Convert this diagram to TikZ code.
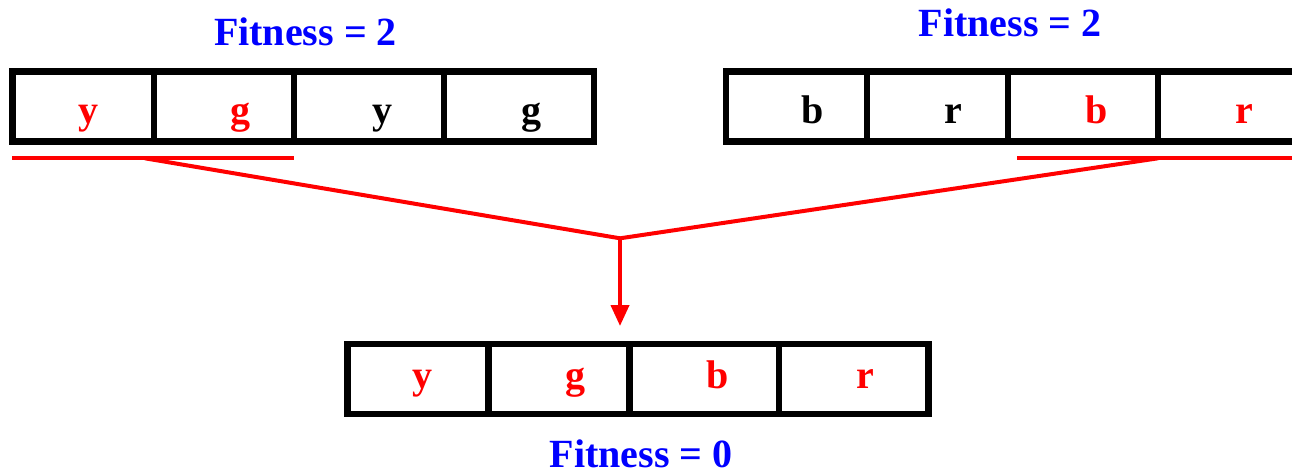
\documentclass[tikz,border=0pt]{standalone}
\usepackage{fontspec}
\setmainfont{Liberation Serif}
\usetikzlibrary{arrows.meta}
\definecolor{genered}{RGB}{255,0,0}
\definecolor{fitblue}{RGB}{0,0,255}
\begin{document}
\begin{tikzpicture}[x=1pt,y=-1pt,
  cell/.style={draw=black, line width=6.5pt, inner sep=0pt, outer sep=0pt,
               minimum height=70pt, anchor=north west},
  gene/.style={font=\bfseries\fontsize{40}{48}\selectfont, inner sep=0pt, anchor=base},
  hot/.style={gene, text=genered},
  fitlabel/.style={gene, text=fitblue},
  link/.style={draw=genered, line width=4pt}
]
\useasboundingbox (0,0) rectangle (1292,475);
\fill[white] (0,0) rectangle (1292,475);
\clip (0,0) rectangle (1292,475);

% parent 1
\node[cell, minimum width=141.3pt] (tl1) at (12.7,71.3) {};
\node[cell, minimum width=140pt]   (tl2) at (154,71.3) {};
\node[cell, minimum width=150pt]   (tl3) at (294,71.3) {};
\node[cell, minimum width=150pt]   (tl4) at (444,71.3) {};
\node[hot]  (gtl1) at (88,123.5)  {y};
\node[hot]  (gtl2) at (240.5,123.5) {g};
\node[gene] (gtl3) at (382.5,123.5) {y};
\node[gene] (gtl4) at (531.5,123.5) {g};
\node[fitlabel] (fit1) at (305.5,45) {Fitness = 2};

% parent 2
\node[cell, minimum width=141pt] (tr1) at (726,71.3) {};
\node[cell, minimum width=141pt] (tr2) at (867,71.3) {};
\node[cell, minimum width=150pt] (tr3) at (1008,71.3) {};
\node[cell, minimum width=150pt] (tr4) at (1158,71.3) {};
\node[gene] (gtr1) at (812.7,123.5) {b};
\node[gene] (gtr2) at (953,123.5)   {r};
\node[hot]  (gtr3) at (1097,123.5)  {b};
\node[hot]  (gtr4) at (1244,123.5)  {r};
\node[fitlabel] (fit2) at (1010,36) {Fitness = 2};

% offspring
\node[cell, minimum width=141pt]   (b1) at (347.3,344) {};
\node[cell, minimum width=141.4pt] (b2) at (488.3,344) {};
\node[cell, minimum width=149.3pt] (b3) at (629.7,344) {};
\node[cell, minimum width=149.7pt] (b4) at (779,344) {};
\node[hot] (gb1) at (422,388) {y};
\node[hot] (gb2) at (575,388) {g};
\node[hot] (gb3) at (718,388) {b};
\node[hot] (gb4) at (865,388) {r};
\node[fitlabel] (fit3) at (641,467) {Fitness = 0};

% crossover links
\coordinate (ulLa) at (12,158.3);
\coordinate (ulLb) at (294,158.3);
\coordinate (ulLm) at (145,158.3);
\coordinate (ulRa) at (1017,158.3);
\coordinate (ulRb) at (1300,158.3);
\coordinate (ulRm) at (1158,158.3);
\coordinate (join) at (620,238.3);
\coordinate (tip)  at (620,326);

\draw[link] (ulLa) -- (ulLb);
\draw[link] (ulRa) -- (ulRb);
\draw[link] (ulLm) -- (join) -- (ulRm);
\draw[link, -{Triangle[width=18pt,length=21pt]}] (join) -- (tip);
\end{tikzpicture}
\end{document}
